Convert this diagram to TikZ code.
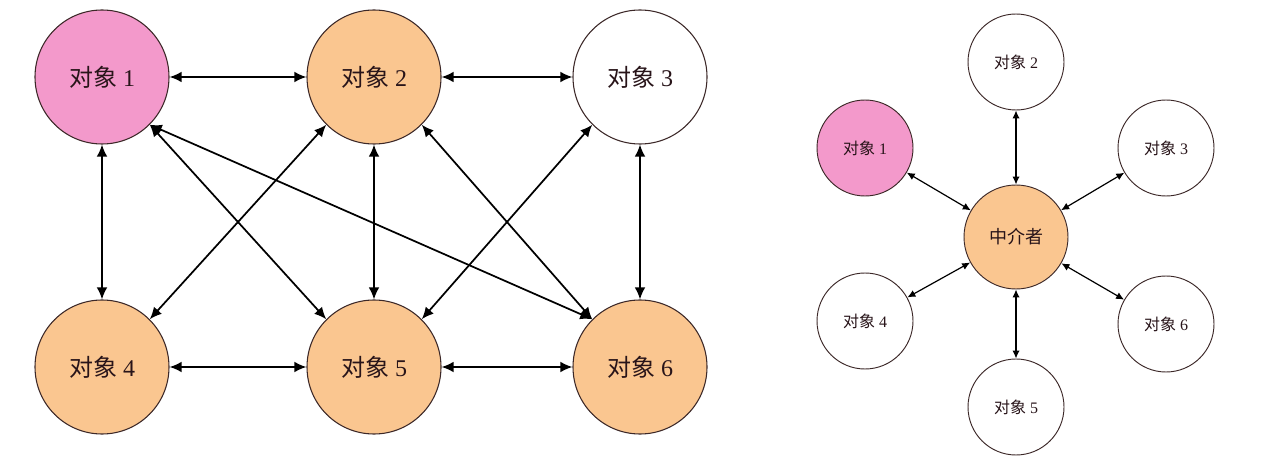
\documentclass[tikz,border=0pt]{standalone}
\usepackage{fontspec}
\setmainfont{Liberation Serif}
\newfontfamily\cjk{Noto Sans CJK SC}
\usetikzlibrary{arrows.meta}
\definecolor{pinkfill}{RGB}{243,153,203}
\definecolor{orangefill}{RGB}{250,198,144}
\definecolor{edgecol}{RGB}{60,40,40}
\definecolor{txtcol}{RGB}{40,20,25}
\begin{document}
\begin{tikzpicture}[x=0.75pt,y=-0.75pt,
  bigobj/.style={circle,draw=edgecol,line width=0.8pt,minimum size=100.5pt,inner sep=0pt,text=txtcol,font=\fontsize{18}{21}\selectfont},
  smallobj/.style={circle,draw=edgecol,line width=0.7pt,minimum size=72pt,inner sep=0pt,text=txtcol,font=\fontsize{12}{14}\selectfont},
  bigarrow/.style={{Latex[length=9pt,width=8pt]}-{Latex[length=9pt,width=8pt]},line width=1.3pt},
  smallarrow/.style={{Latex[length=6pt,width=5.5pt]}-{Latex[length=6pt,width=5.5pt]},line width=0.9pt}]
\useasboundingbox[fill=white] (0,0) rectangle (1288,470);
% left diagram
\node[bigobj,fill=pinkfill] (a1) at (102,77) {{\cjk 对象} 1};
\node[bigobj,fill=orangefill] (a2) at (374,77) {{\cjk 对象} 2};
\node[bigobj,fill=white] (a3) at (640,77) {{\cjk 对象} 3};
\node[bigobj,fill=orangefill] (a4) at (102,367) {{\cjk 对象} 4};
\node[bigobj,fill=orangefill] (a5) at (374,367) {{\cjk 对象} 5};
\node[bigobj,fill=orangefill] (a6) at (640,367) {{\cjk 对象} 6};
\draw[bigarrow] (a1.east) -- (a2.west);
\draw[bigarrow] (a2.east) -- (a3.west);
\draw[bigarrow] (a4.east) -- (a5.west);
\draw[bigarrow] (a5.east) -- (a6.west);
\draw[bigarrow] (a1.south) -- (a4.north);
\draw[bigarrow] (a2.south) -- (a5.north);
\draw[bigarrow] (a3.south) -- (a6.north);
\draw[bigarrow] (a1.-45) -- (a5.135);
\draw[bigarrow] (a1.-45) -- (a6.135);
\draw[bigarrow] (a2.225) -- (a4.45);
\draw[bigarrow] (a2.-45) -- (a6.135);
\draw[bigarrow] (a3.225) -- (a5.45);
% right diagram
\node[smallobj,fill=orangefill,minimum size=78pt,font=\fontsize{13.5}{16}\selectfont] (m) at (1016,237) {\cjk 中介者};
\node[smallobj,fill=pinkfill] (b1) at (865,148) {{\cjk 对象} 1};
\node[smallobj,fill=white] (b2) at (1016,62) {{\cjk 对象} 2};
\node[smallobj,fill=white] (b3) at (1166,148) {{\cjk 对象} 3};
\node[smallobj,fill=white] (b4) at (865,321) {{\cjk 对象} 4};
\node[smallobj,fill=white] (b5) at (1016,407) {{\cjk 对象} 5};
\node[smallobj,fill=white] (b6) at (1166,324) {{\cjk 对象} 6};
\foreach \n in {b1,b2,b3,b4,b5,b6} \draw[smallarrow] (\n) -- (m);
\end{tikzpicture}
\end{document}
